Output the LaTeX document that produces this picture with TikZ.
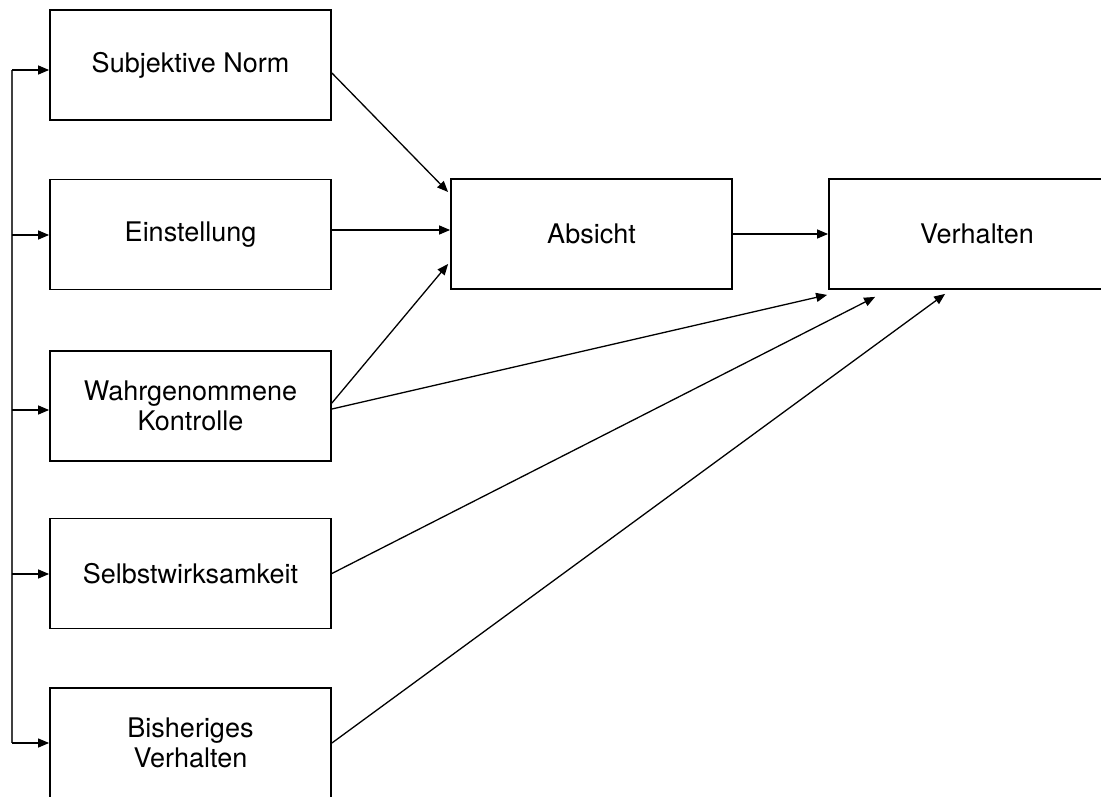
\documentclass[tikz,border=0pt]{standalone}
\usepackage{fontspec}
\setmainfont{TeX Gyre Heros}
\usetikzlibrary{arrows.meta,calc}

\tikzset{
  box/.style={draw, line width=1.8pt, inner sep=0pt, minimum width=281pt,
    minimum height=110pt, align=center,
    font=\fontsize{27}{30}\selectfont},
  link/.style={line width=1.3pt, -{Triangle[length=11pt,width=9pt]}},
  feed/.style={line width=1.1pt, draw=black!75}
}

\begin{document}
\begin{tikzpicture}[x=1pt, y=-1pt]
  \useasboundingbox (0,0) rectangle (1101,796);

  % predictor boxes on the left
  \node[box] (sn) at (190.5,65)    {Subjektive Norm};
  \node[box] (ei) at (190.5,234.5) {Einstellung};
  \node[box] (ko) at (190.5,406)   {Wahrgenommene\\Kontrolle};
  \node[box] (se) at (190.5,573.5) {Selbstwirksamkeit};
  \node[box] (bh) at (190.5,743)   {Bisheriges\\Verhalten};

  % intention and behaviour
  \node[box] (ab) at (591.5,234) {Absicht};
  \node[box, minimum width=296pt] (ve) at (977,234) {Verhalten};

  % feeding bracket on the far left
  \coordinate (l1) at (12,70);
  \coordinate (l2) at (12,235);
  \coordinate (l3) at (12,410);
  \coordinate (l4) at (12,574);
  \coordinate (l5) at (12,743);
  \draw[feed] (l1) -- (l5);
  \draw[link] (l1) -- (l1 -| sn.west);
  \draw[link] (l2) -- (l2 -| ei.west);
  \draw[link] (l3) -- (l3 -| ko.west);
  \draw[link] (l4) -- (l4 -| se.west);
  \draw[link] (l5) -- (l5 -| bh.west);

  % paths into the intention
  \draw[link] ($(sn.east)+(0,8)$)  -- ($(ab.west)+(-2,-42)$);
  \draw[link] ($(ei.east)+(0,-4.5)$) -- ($(ab.west)+(0,-4)$);
  \draw[link] ($(ko.east)+(0,-3)$) -- ($(ab.west)+(-2,30)$);

  % paths into the behaviour
  \draw[link] (ab.east) -- (ve.west);
  \draw[link] ($(ko.east)+(0,3)$) -- ($(ve.south west)+(-1,5)$);
  \draw[link] (se.east) -- ($(ve.south west)+(47,7)$);
  \draw[link] (bh.east) -- ($(ve.south west)+(117,4)$);
\end{tikzpicture}
\end{document}
